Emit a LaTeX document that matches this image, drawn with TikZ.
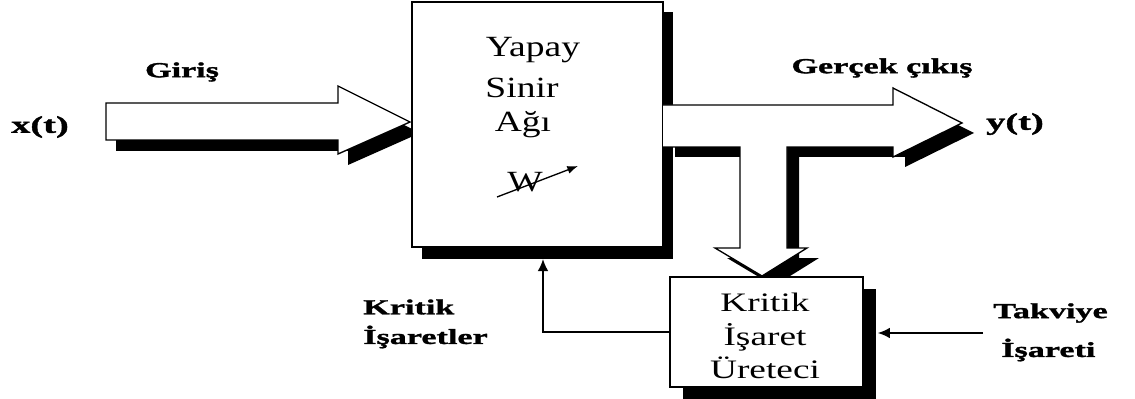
\documentclass[tikz,border=0pt]{standalone}
\usepackage{fontspec}
\setmainfont{Liberation Serif}
\newfontfamily\boxfont[FakeStretch=1.28]{Liberation Serif}
\newfontfamily\smallboxfont[FakeStretch=1.4]{Liberation Serif}
\newfontfamily\labfont[FakeStretch=1.6,FakeBold=1.5]{Liberation Serif Bold}
\usetikzlibrary{calc,shadows,arrows.meta}
\begin{document}
\begin{tikzpicture}[x=0.75pt,y=-0.75pt,
  blk/.style={draw=black,line width=1.2pt,fill=white,inner sep=0pt},
  fat/.style={fill=white},
  fatline/.style={draw=black,line width=1pt,line join=miter},
  shade/.style={fill=black},
  lab/.style={font=\labfont\fontsize{16pt}{18pt}\selectfont,inner sep=0pt},
  biglab/.style={font=\labfont\fontsize{18pt}{20pt}\selectfont,inner sep=0pt},
  intext/.style={font=\boxfont\fontsize{22pt}{24pt}\selectfont,inner sep=0pt},
  sbtext/.style={font=\smallboxfont\fontsize{20pt}{22pt}\selectfont,inner sep=0pt},
  thin/.style={line width=1.3pt,-{Latex[length=9pt,width=8pt]}}
]
\useasboundingbox (0,0) rectangle (1135,399);
\fill[white] (0,0) rectangle (1135,399);

% input fat arrow
\coordinate (i1) at (106,103);
\coordinate (i2) at (338,103);
\coordinate (i3) at (338,86);
\coordinate (i4) at (410,122);
\coordinate (i5) at (338,154);
\coordinate (i6) at (338,140);
\coordinate (i7) at (106,140);
\begin{scope}[transform canvas={xshift=7.5pt,yshift=-8.25pt}]
\fill[shade] (i1)--(i2)--(i3)--(i4)--(i5)--(i6)--(i7)--cycle;
\end{scope}
\path[fat,fatline] (i1)--(i2)--(i3)--(i4)--(i5)--(i6)--(i7)--cycle;

% main box
\fill[shade] (422,12) rectangle (673,259);
\node[blk,minimum width=188.25pt,minimum height=183.75pt] (ann) at (537.5,124.5) {};
\node[intext] (t1) at (533,50) {Yapay};
\node[intext] (t2) at (522,88) {Sinir};
\node[intext] (t3) at (523,125) {Ağı};
\node[intext] (tw) at (525,182) {W};
\coordinate (wa) at (497,197);
\coordinate (wb) at (578,166);
\draw[line width=1pt,-{Latex[length=8pt,width=6pt]}] (wa) -- (wb);

% output T-shaped fat arrow
\coordinate (o1) at (663,105);
\coordinate (o2) at (893,105);
\coordinate (o3) at (893,88);
\coordinate (o4) at (962,123);
\coordinate (o5) at (893,157);
\coordinate (o6) at (893,147);
\coordinate (o7) at (787,147);
\coordinate (o8) at (787,248);
\coordinate (o9) at (807,248);
\coordinate (o10) at (762,276);
\coordinate (o11) at (715,248);
\coordinate (o12) at (740,248);
\coordinate (o13) at (740,147);
\coordinate (o14) at (663,147);
\begin{scope}[transform canvas={xshift=9pt,yshift=-7.5pt}]
\fill[shade] (o1)--(o2)--(o3)--(o4)--(o5)--(o6)--(o7)--(o8)--(o9)--(o10)--(o11)--(o12)--(o13)--(o14)--cycle;
\end{scope}
\fill[white] (o1)--(o2)--(o3)--(o4)--(o5)--(o6)--(o7)--(o8)--(o9)--(o10)--(o11)--(o12)--(o13)--(o14)--cycle;
\draw[fatline] (o1)--(o2)--(o3)--(o4)--(o5)--(o6)--(o7)--(o8)--(o9)--(o10)--(o11)--(o12)--(o13)--(o14);

% small box
\fill[shade] (683,289) rectangle (876,399);
\node[blk,minimum width=144.75pt,minimum height=82.5pt] (kb) at (766.5,332) {};
\node[sbtext] (s1) at (765,302) {Kritik};
\node[sbtext] (s2) at (765,337) {İşaret};
\node[sbtext] (s3) at (765,368) {Üreteci};

% labels
\node[lab] (giris) at (182,72) {Giriş};
\node[biglab] (xt) at (40,127) {x(t)};
\node[lab] (gc) at (882,68) {Gerçek çıkış};
\node[biglab] (yt) at (1015,124) {y(t)};
\node[lab,anchor=west] (ki1) at (363,307) {Kritik};
\node[lab,anchor=west] (ki2) at (363,337) {İşaretler};
\node[lab,anchor=west] (tk1) at (993,313) {Takviye};
\node[lab,anchor=west] (tk2) at (1001,350) {İşareti};

% thin connectors
\coordinate (fb) at (543,259);
\draw[thin] (kb.west) -| (fb);
\coordinate (tkin) at (983,333);
\draw[thin] (tkin) -- ($(kb.east)+(14,1)$);
\end{tikzpicture}
\end{document}
